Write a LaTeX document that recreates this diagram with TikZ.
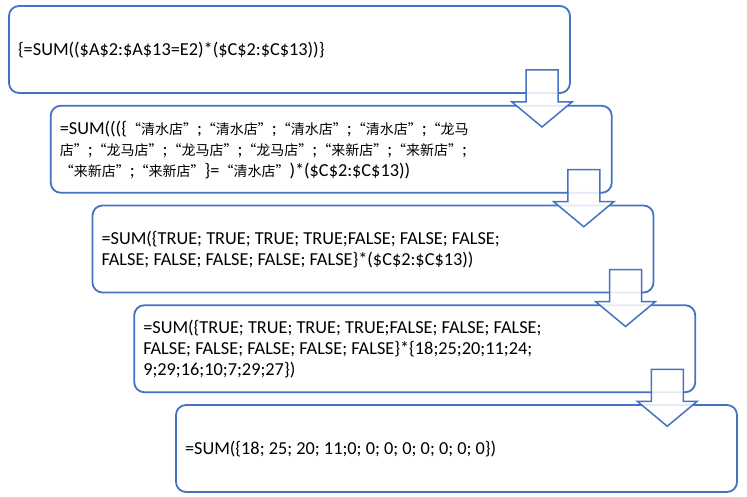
\documentclass[tikz,border=0pt]{standalone}
\usepackage{fontspec}
\setmainfont{Carlito}
\newfontfamily\cjkfont{Noto Sans CJK SC}[CharacterWidth=Full]
\newcommand\zh[1]{{\cjkfont\fontsize{14}{21}\selectfont #1}}
\usetikzlibrary{calc}
\definecolor{boxblue}{HTML}{4472C4}
\begin{document}
\begin{tikzpicture}[x=1pt,y=-1pt,
  box/.style={draw=boxblue, line width=1.8pt, rounded corners=10pt,
    minimum width=561pt, minimum height=87pt, inner sep=0pt, outer sep=0pt, fill=white},
  txt/.style={anchor=base west, inner sep=0pt, outer sep=0pt,
    font=\fontsize{18.3}{21}\selectfont},
  blockarrow/.style={draw=boxblue, line width=1.5pt, fill=white,
    fill opacity=0.85, line join=miter}]
\useasboundingbox (0,0) rectangle (747,497);

% boxes
\node[box] (b1) at (289.5,49.5) {};
\node[box] (b2) at (331.25,149.25) {};
\node[box] (b3) at (373,249) {};
\node[box] (b4) at (414.75,348.75) {};
\node[box] (b5) at (456.5,448.5) {};

% texts
\node[txt] (t1) at ($(b1.west)+(9,6)$)
  {\{=SUM((\$A\$2:\$A\$13=E2)*(\$C\$2:\$C\$13))\}};
\node[txt] (t2) at ($(b2.west)+(9,-15)$)
  {\vtop{\hbox{=SUM(((\{\zh{“清水店”};\zh{“清水店”};\zh{“清水店”};\zh{“清水店”};\zh{“龙马}}
         \hbox{\zh{店”};\zh{“龙马店”};\zh{“龙马店”};\zh{“龙马店”};\zh{“来新店”};\zh{“来新店”};}
         \hbox{\zh{“来新店”};\zh{“来新店”}\}=\zh{“清水店”})*(\$C\$2:\$C\$13))}}};
\node[txt] (t3) at ($(b3.west)+(9,-4.5)$)
  {\vtop{\hbox{=SUM(\{TRUE; TRUE; TRUE; TRUE;FALSE; FALSE; FALSE;}
         \hbox{FALSE; FALSE; FALSE; FALSE; FALSE\}*(\$C\$2:\$C\$13))}}};
\node[txt] (t4) at ($(b4.west)+(9,-15)$)
  {\vtop{\hbox{=SUM(\{TRUE; TRUE; TRUE; TRUE;FALSE; FALSE; FALSE;}
         \hbox{FALSE; FALSE; FALSE; FALSE; FALSE\}*\{18;25;20;11;24;}
         \hbox{9;29;16;10;7;29;27\})}}};
\node[txt] (t5) at ($(b5.west)+(9,6)$)
  {=SUM(\{18; 25; 20; 11;0; 0; 0; 0; 0; 0; 0; 0\})};

% block arrows
\foreach \i/\j in {1/2,2/3,3/4,4/5}{
  \coordinate (a\i) at ($(b\i.south east)+(-28,0)$);
  \draw[blockarrow] ($(a\i)+(-16,-23)$) -- ($(a\i)+(16,-23)$) -- ($(a\i)+(16,9)$)
    -- ($(a\i)+(30,9)$) -- ($(a\i)+(0,34)$) -- ($(a\i)+(-30,9)$)
    -- ($(a\i)+(-16,9)$) -- cycle;
}
\end{tikzpicture}
\end{document}
